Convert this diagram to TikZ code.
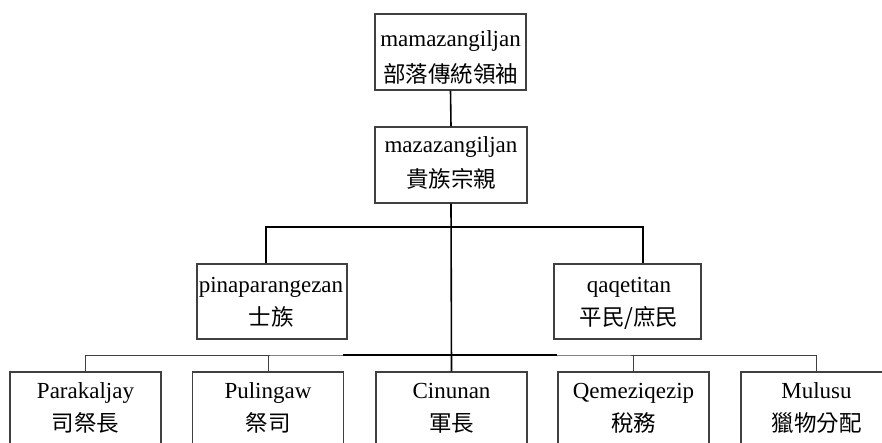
\documentclass[tikz,border=0pt]{standalone}
\usepackage{fontspec}
\setmainfont{Liberation Serif}
\newfontfamily\cjk{Noto Sans CJK TC}
\definecolor{boxline}{HTML}{404040}
\begin{document}
\begin{tikzpicture}[x=1pt,y=-1pt,
  box/.style={draw=boxline,line width=1.1pt,inner sep=0pt,fill=none},
  lat/.style={anchor=base,inner sep=0pt,font=\fontsize{23}{28}\selectfont},
  zh/.style={anchor=base,inner sep=0pt,font=\fontsize{22.5}{28}\selectfont\cjk},
  conn/.style={draw=black,line width=1.6pt},
  thinconn/.style={draw=boxline,line width=1pt}]
\useasboundingbox (0,0) rectangle (882,443);
\clip (0,0) rectangle (882,443);
% boxes
\node[box,minimum width=151pt,minimum height=76pt] (top) at (450.5,52) {};
\node[box,minimum width=152pt,minimum height=76pt] (mid) at (451,165) {};
\node[box,minimum width=150pt,minimum height=75pt] (lft) at (272,301.5) {};
\node[box,minimum width=147pt,minimum height=75pt] (rgt) at (627.5,301.5) {};
\node[box,minimum width=151pt,minimum height=90pt] (b1) at (85.5,417) {};
\node[box,minimum width=151pt,minimum height=90pt] (b2) at (268,417) {};
\node[box,minimum width=151pt,minimum height=90pt] (b3) at (451.5,417) {};
\node[box,minimum width=151pt,minimum height=90pt] (b4) at (633.5,417) {};
\node[box,minimum width=151pt,minimum height=90pt] (b5) at (816.5,417) {};
% texts
\node[lat] (t1) at (450.5,47) {mamazangiljan};
\node[zh] (t2) at (450.5,83) {部落傳統領袖};
\node[lat] (m1) at (451,153) {mazazangiljan};
\node[zh] (m2) at (451,188) {貴族宗親};
\node[lat] (l1) at (271,292) {pinaparangezan};
\node[zh] (l2) at (271,325) {士族};
\node[lat] (r1) at (629,292) {qaqetitan};
\node[zh] (r2) at (629,325) {平民/庶民};
\node[lat] (p1) at (85.5,398) {Parakaljay};
\node[zh] (p2) at (85.5,431) {司祭長};
\node[lat] (q1) at (268,398) {Pulingaw};
\node[zh] (q2) at (268,431) {祭司};
\node[lat] (c1) at (451.5,398) {Cinunan};
\node[zh] (c2) at (451.5,431) {軍長};
\node[lat] (z1) at (633.5,398) {Qemeziqezip};
\node[zh] (z2) at (633.5,431) {稅務};
\node[lat] (u1) at (816.5,398) {Mulusu};
\node[zh] (u2) at (816.5,431) {獵物分配};
% coordinates
\coordinate (hb) at (450,227);
\coordinate (bb) at (450,355);
\coordinate (tk1) at (343,355);
\coordinate (tk2) at (557,355);
% connectors
\draw[conn] (top.south) -- (mid.north);
\draw[conn] ([xshift=-6pt]lft.north) |- (hb) -| ([xshift=15.5pt]rgt.north);
\draw[conn] (mid.south) -- (b3.north);
\draw[thinconn] (b1.north) |- (bb) -| (b5.north);
\draw[thinconn] (b2.north) -- (b2.north |- bb);
\draw[thinconn] (b4.north) -- (b4.north |- bb);
\draw[conn] (tk1) -- (tk2);
\end{tikzpicture}
\end{document}
